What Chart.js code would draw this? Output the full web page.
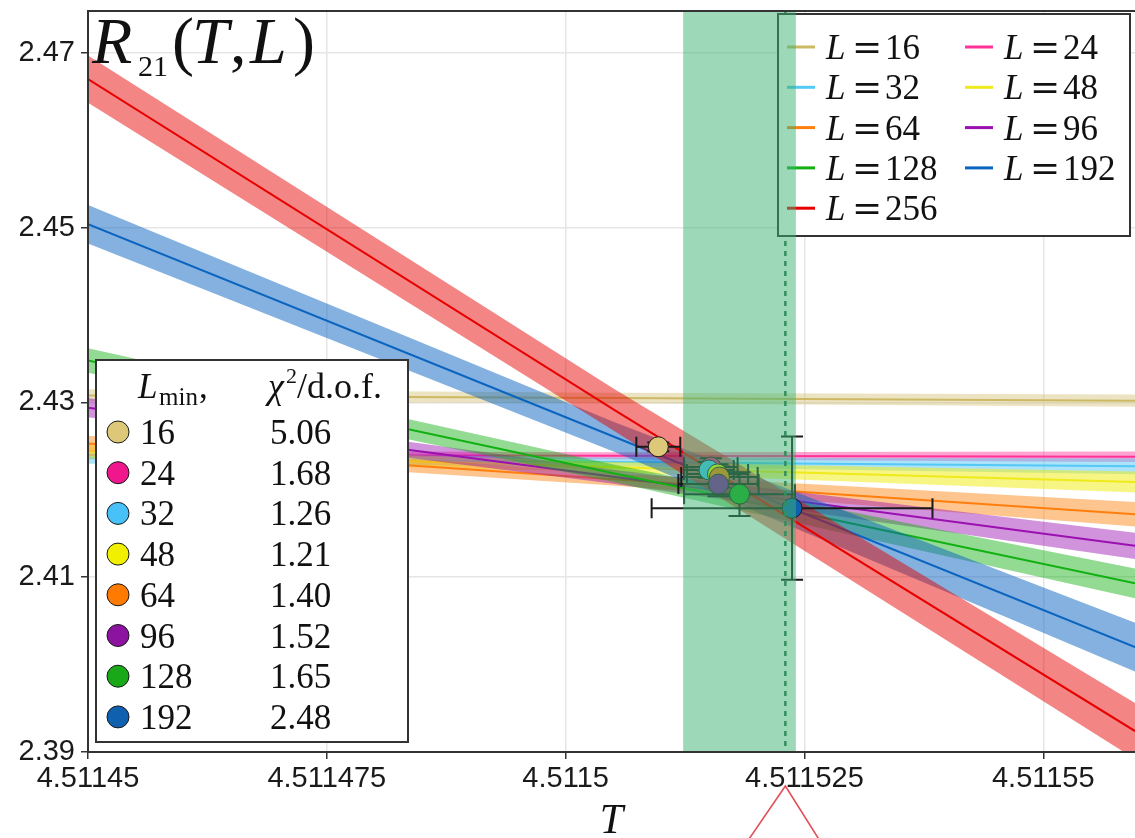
<!DOCTYPE html>
<html>
<head>
<meta charset="utf-8">
<script src="https://cdn.jsdelivr.net/npm/chart.js@4.4.1/dist/chart.umd.min.js"></script>
<style>
html, body { margin: 0; padding: 0; background: #fff; }
canvas { display: block; }
</style>
</head>
<body>
<canvas id="chart" width="1135" height="838"></canvas>
<script>
// fit curves R21(T, L): one per system size
const sizes = [16, 24, 32, 48, 64, 96, 128, 192, 256];
// temperatures where the curves were read (left edge, middle, right edge)
const fitT = [4.51145, 4.511505, 4.5115596];
const fitR = [
  [2.4308, 2.4305, 2.4302],
  [2.4240, 2.4239, 2.4238],
  [2.4237, 2.4232, 2.4227],
  [2.4244, 2.4226, 2.4209],
  [2.4253, 2.4212, 2.4172],
  [2.4294, 2.4215, 2.4136],
  [2.4348, 2.4219, 2.4093],
  [2.4504, 2.4261, 2.4020],
  [2.4670, 2.4292, 2.3924]
];
const fitErr = [
  [0.0007, 0.0006, 0.0007],
  [0.0005, 0.0004, 0.0006],
  [0.0007, 0.0005, 0.0009],
  [0.0008, 0.0006, 0.0012],
  [0.0009, 0.0007, 0.0014],
  [0.0011, 0.0008, 0.0015],
  [0.0014, 0.0010, 0.0017],
  [0.0022, 0.0017, 0.0028],
  [0.0027, 0.0024, 0.0032]
];
const lineColors = ['#cdb964', '#ff3399', '#55c8f5', '#eeea1c', '#ff7f0e', '#9a10b0', '#12b012', '#0a64c0', '#e80000'];
const bandColors = ['rgba(205,185,100,0.40)', 'rgba(255,51,153,0.45)', 'rgba(85,200,245,0.50)',
  'rgba(240,236,30,0.55)', 'rgba(255,140,30,0.50)', 'rgba(154,16,176,0.45)',
  'rgba(16,176,16,0.45)', 'rgba(10,100,192,0.50)', 'rgba(230,0,0,0.48)'];

// crossing estimates for each L_min
const lmin = [16, 24, 32, 48, 64, 96, 128, 192];
const chi2 = ['5.06', '1.68', '1.26', '1.21', '1.40', '1.52', '1.65', '2.48'];
const crossT = [4.5115097, 4.5115152, 4.5115150, 4.5115159, 4.5115161, 4.5115160, 4.5115182, 4.5115237];
const crossR = [2.42493, 2.42262, 2.42228, 2.42182, 2.42147, 2.42066, 2.41951, 2.41790];
const crossTErr = [2.3e-6, 2.8e-6, 2.6e-6, 3.2e-6, 4.0e-6, 4.2e-6, 5.8e-6, 1.47e-5];
const crossRErr = [0.0005, 0.0010, 0.0009, 0.0011, 0.0012, 0.0014, 0.0025, 0.0082];
const pointColors = ['#dcc878', '#f0168c', '#48c0f8', '#f0f000', '#ff7a00', '#8c12a0', '#18a818', '#1060b0'];

// T_c estimate and its band
const tcBest = 4.5115230;
const tcLow = 4.5115123;
const tcHigh = 4.5115241;

const xTicks = [4.51145, 4.511475, 4.5115, 4.511525, 4.51155];
const xTickLabels = ['4.51145', '4.511475', '4.5115', '4.511525', '4.51155'];
const yTicks = [2.39, 2.41, 2.43, 2.45, 2.47];
const yTickLabels = ['2.39', '2.41', '2.43', '2.45', '2.47'];

const SERIF = '"Liberation Serif", "DejaVu Serif", serif';

const datasets = [];
sizes.forEach((L, i) => {
  datasets.push({
    data: fitT.map((t, k) => ({x: t, y: fitR[i][k] + fitErr[i][k]})),
    borderWidth: 0, borderColor: 'rgba(0,0,0,0)', pointRadius: 0, fill: false
  });
  datasets.push({
    data: fitT.map((t, k) => ({x: t, y: fitR[i][k] - fitErr[i][k]})),
    borderWidth: 0, borderColor: 'rgba(0,0,0,0)', pointRadius: 0,
    fill: '-1', backgroundColor: bandColors[i]
  });
  datasets.push({
    data: fitT.map((t, k) => ({x: t, y: fitR[i][k]})),
    borderColor: lineColors[i], borderWidth: 2, pointRadius: 0, fill: false
  });
});
const pointsIdx = datasets.length;
datasets.push({
  data: crossT.map((t, i) => ({x: t, y: crossR[i]})),
  showLine: false, pointRadius: 10,
  pointBackgroundColor: pointColors, pointBorderColor: '#1a1a1a', pointBorderWidth: 1
});
// first dataset at the bottom
datasets.forEach((d, i) => { d.order = datasets.length - i; });

const errorBars = {
  id: 'errorBars',
  beforeDatasetDraw(chart, args) {
    if (args.index !== pointsIdx) return;
    const {ctx, scales: {x, y}} = chart;
    ctx.save();
    ctx.strokeStyle = '#1a1a1a';
    ctx.lineWidth = 2;
    crossT.forEach((t, i) => {
      const px = x.getPixelForValue(t), py = y.getPixelForValue(crossR[i]);
      const x0 = x.getPixelForValue(t - crossTErr[i]), x1 = x.getPixelForValue(t + crossTErr[i]);
      const y0 = y.getPixelForValue(crossR[i] - crossRErr[i]), y1 = y.getPixelForValue(crossR[i] + crossRErr[i]);
      ctx.beginPath();
      ctx.moveTo(x0, py); ctx.lineTo(x1, py);
      ctx.moveTo(x0, py - 10); ctx.lineTo(x0, py + 10);
      ctx.moveTo(x1, py - 10); ctx.lineTo(x1, py + 10);
      ctx.moveTo(px, y0); ctx.lineTo(px, y1);
      ctx.moveTo(px - 11, y0); ctx.lineTo(px + 11, y0);
      ctx.moveTo(px - 11, y1); ctx.lineTo(px + 11, y1);
      ctx.stroke();
    });
    ctx.restore();
  }
};

function drawLabelL(ctx, x, base, n) {
  ctx.font = 'italic 35px ' + SERIF;
  ctx.fillText('L', x, base);
  ctx.font = '36px "DejaVu Serif", serif';
  ctx.fillText('=', x + 26, base);
  ctx.font = '35px ' + SERIF;
  ctx.fillText(String(n), x + 59, base);
}

const overlay = {
  id: 'overlay',
  afterDatasetsDraw(chart) {
    const {ctx, chartArea: a, scales: {x, y}} = chart;
    const tx = x.getPixelForValue(tcBest);
    ctx.save();
    ctx.textBaseline = 'alphabetic';
    ctx.textAlign = 'left';

    // dashed T_c line
    ctx.strokeStyle = '#2a6a47';
    ctx.lineWidth = 2.5;
    ctx.setLineDash([5, 5]);
    ctx.beginPath();
    ctx.moveTo(tx, a.top); ctx.lineTo(tx, a.bottom);
    ctx.stroke();
    ctx.setLineDash([]);

    // legend of the fit curves
    ctx.fillStyle = '#fff';
    ctx.fillRect(778, 14, 352, 222);
    ctx.strokeStyle = '#333';
    ctx.lineWidth = 2;
    ctx.strokeRect(778, 14, 352, 222);
    sizes.forEach((L, i) => {
      const col = i % 2, row = Math.floor(i / 2);
      const cy = 47 + row * 40.3;
      const sx = col === 0 ? 787 : 965;
      ctx.strokeStyle = lineColors[i];
      ctx.lineWidth = 3;
      ctx.beginPath();
      ctx.moveTo(sx, cy); ctx.lineTo(sx + 28, cy);
      ctx.stroke();
      ctx.fillStyle = '#111';
      drawLabelL(ctx, sx + 39, cy + 12, L);
    });

    // legend of crossing points
    ctx.fillStyle = '#fff';
    ctx.fillRect(96, 360, 312, 382);
    ctx.strokeStyle = '#333';
    ctx.lineWidth = 2;
    ctx.strokeRect(96, 360, 312, 382);
    ctx.fillStyle = '#111';
    ctx.font = 'italic 35px ' + SERIF;
    ctx.fillText('L', 138, 398);
    ctx.font = '25px ' + SERIF;
    ctx.fillText('min', 159, 405);
    ctx.font = '35px ' + SERIF;
    ctx.fillText(',', 199, 398);
    ctx.font = 'italic 36px ' + SERIF;
    ctx.fillText('\u03c7', 268, 398);
    ctx.font = '22px ' + SERIF;
    ctx.fillText('2', 286, 383);
    ctx.font = '36px ' + SERIF;
    ctx.fillText('/d.o.f.', 297, 398);
    lmin.forEach((L, i) => {
      const cy = 432 + i * 40.7;
      ctx.beginPath();
      ctx.arc(118, cy, 11, 0, Math.PI * 2);
      ctx.fillStyle = pointColors[i];
      ctx.fill();
      ctx.strokeStyle = '#1a1a1a';
      ctx.lineWidth = 1;
      ctx.stroke();
      ctx.fillStyle = '#111';
      ctx.font = '35px ' + SERIF;
      ctx.fillText(String(L), 140, cy + 12);
      ctx.fillText(chi2[i], 270, cy + 12);
    });

    // T_c band
    const bx0 = x.getPixelForValue(tcLow), bx1 = x.getPixelForValue(tcHigh);
    ctx.fillStyle = 'rgba(60,179,113,0.5)';
    ctx.fillRect(bx0, a.top, bx1 - bx0, a.bottom - a.top);

    // frame
    ctx.strokeStyle = '#333';
    ctx.lineWidth = 2;
    ctx.strokeRect(a.left, a.top, a.right - a.left + 4, a.bottom - a.top);

    // title R_21(T,L)
    ctx.fillStyle = '#111';
    const l = a.left, b = a.top + 52;
    ctx.font = 'italic 66px ' + SERIF;
    ctx.fillText('R', l + 4, b);
    ctx.font = '30px ' + SERIF;
    ctx.fillText('21', l + 50, b + 13);
    ctx.font = '66px ' + SERIF;
    ctx.fillText('(', l + 84, b);
    ctx.font = 'italic 66px ' + SERIF;
    ctx.fillText('T', l + 104, b);
    ctx.font = '66px ' + SERIF;
    ctx.fillText(',', l + 142, b);
    ctx.font = 'italic 66px ' + SERIF;
    ctx.fillText('L', l + 162, b);
    ctx.font = '66px ' + SERIF;
    ctx.fillText(')', l + 205, b);

    // x axis title
    ctx.textAlign = 'center';
    ctx.font = 'italic 42px ' + SERIF;
    ctx.fillText('T', (a.left + a.right) / 2, 833);

    // arrow mark below T_c
    ctx.strokeStyle = '#e0505a';
    ctx.lineWidth = 1.6;
    ctx.beginPath();
    ctx.moveTo(tx - 37, chart.height + 2);
    ctx.lineTo(tx, a.bottom + 34);
    ctx.lineTo(tx + 34, chart.height + 2);
    ctx.stroke();
    ctx.restore();
  }
};

new Chart(document.getElementById('chart'), {
  type: 'line',
  data: { datasets },
  options: {
    responsive: false,
    animation: false,
    layout: { autoPadding: false, padding: { top: 11, right: 0, left: 0, bottom: 0 } },
    plugins: { legend: { display: false }, tooltip: { enabled: false } },
    elements: { line: { tension: 0 } },
    scales: {
      x: {
        type: 'linear',
        min: 4.51145,
        max: 4.5115596,
        afterBuildTicks: s => { s.ticks = xTicks.map(v => ({value: v})); },
        afterFit: s => { s.height = 86; s.paddingLeft = 0; s.paddingRight = 0; },
        ticks: {
          autoSkip: false, maxRotation: 0, padding: 3,
          color: '#1a1a1a',
          font: { family: 'Liberation Sans', size: 29 },
          callback: (v, i) => xTickLabels[i]
        },
        grid: { color: '#e6e6e6', lineWidth: 1.5, tickColor: '#333', tickLength: 7, tickWidth: 1.5 },
        border: { display: false }
      },
      y: {
        min: 2.39,
        max: 2.4748,
        afterBuildTicks: s => { s.ticks = yTicks.map(v => ({value: v})); },
        afterFit: s => { s.width = 88; s.paddingTop = 0; s.paddingBottom = 0; },
        ticks: {
          padding: 6,
          color: '#1a1a1a',
          font: { family: 'Liberation Sans', size: 29 },
          callback: (v, i) => yTickLabels[i]
        },
        grid: { color: '#e6e6e6', lineWidth: 1.5, tickColor: '#333', tickLength: 7, tickWidth: 1.5 },
        border: { display: false }
      }
    }
  },
  plugins: [errorBars, overlay]
});
</script>
</body>
</html>
